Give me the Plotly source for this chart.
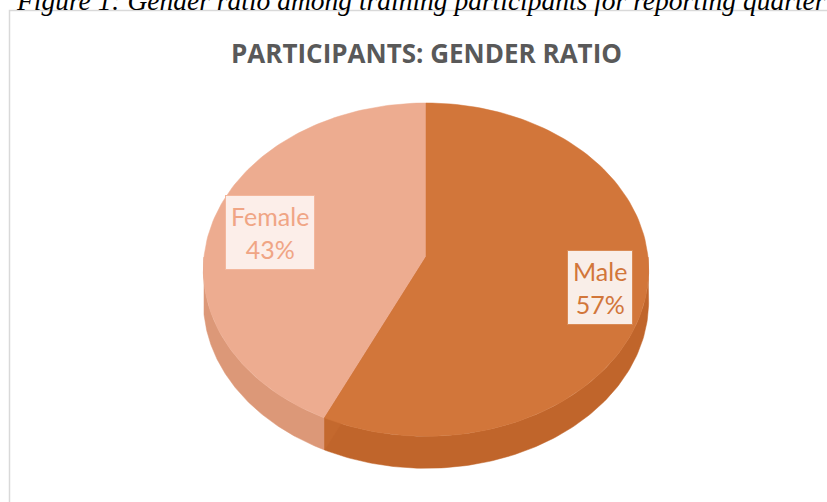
import math
import plotly.graph_objects as go

# ---- data ----
categories = ["Male", "Female"]
values = [57, 43]
title_text = "PARTICIPANTS: GENDER RATIO"
caption_text = "Figure 1: Gender ratio among training participants for reporting quarter"

# ---- style ----
top_colors = {"Male": "#D2763A", "Female": "#EDAC90"}
side_colors = {"Male": "#C0652B", "Female": "#DC9878"}
cut_color = "#C4692E"
label_fill = {"Male": "#F9EEE8", "Female": "#FCEEE9"}
label_text = {"Male": "#D2763A", "Female": "#F0A585"}
label_border = {"Male": "#D98A55", "Female": "#F3B79D"}
label_pos = {"Male": (600, 287), "Female": (270, 232)}

W, H = 827, 502
cx, cy = 426, 257      # pie apex (pixel space)
a, b, k = 222, 165.7, 0.0758
depth = 32


def proj(theta, d=0.0):
    t = math.radians(theta)
    X = math.sin(t)
    Y = -math.cos(t)
    w = 1 - k * Y
    return cx + a * X / w, cy + b * Y / w + d


def arc(t0, t1, d=0.0, n=120):
    return [proj(t0 + (t1 - t0) * i / n, d) for i in range(n + 1)]


total = sum(values)
angles = []
acc = 0.0
for v in values:
    start = acc / total * 360
    acc += v
    angles.append((start, acc / total * 360))

fig = go.Figure()

# side walls (front half visible: 90..270 deg clockwise from top)
for cat, (s, e) in zip(categories, angles):
    lo, hi = max(s, 90), min(e, 270)
    if hi > lo:
        upper = arc(lo, hi)
        lower = arc(lo, hi, depth)[::-1]
        pts = upper + lower + [upper[0]]
        fig.add_trace(go.Scatter(
            x=[p[0] for p in pts], y=[p[1] for p in pts], mode="lines",
            fill="toself", fillcolor=side_colors[cat],
            line=dict(color=side_colors[cat], width=0.5),
            hoverinfo="skip", showlegend=False))

# top faces: female first, then cut face, then male
for idx in [1, 0]:
    cat = categories[idx]
    s, e = angles[idx]
    pts = [(cx, cy)] + arc(s, e) + [(cx, cy)]
    fig.add_trace(go.Scatter(
        x=[p[0] for p in pts], y=[p[1] for p in pts], mode="lines",
        fill="toself", fillcolor=top_colors[cat],
        line=dict(color=top_colors[cat], width=0.5),
        hoverinfo="skip", showlegend=False, name=cat))
    if idx == 1:
        r0 = proj(angles[0][1])
        r1 = proj(angles[0][1], depth)
        q = [(cx, cy), r0, r1, (cx, cy + depth), (cx, cy)]
        fig.add_trace(go.Scatter(
            x=[p[0] for p in q], y=[p[1] for p in q], mode="lines",
            fill="toself", fillcolor=cut_color,
            line=dict(color=cut_color, width=0.5),
            hoverinfo="skip", showlegend=False))

annotations = []
for cat, v in zip(categories, values):
    x, y = label_pos[cat]
    annotations.append(dict(
        x=x, y=y, xref="x", yref="y", showarrow=False,
        text=f"{cat}<br>{round(v / total * 100)}%",
        font=dict(family="Lato, Open Sans, sans-serif", size=25, color=label_text[cat]),
        bgcolor=label_fill[cat], bordercolor=label_border[cat], borderwidth=1,
        borderpad=5, align="center"))

annotations.append(dict(
    x=426, y=53, xref="x", yref="y", showarrow=False, text=f"<b>{title_text}</b>",
    font=dict(family="Open Sans, sans-serif", size=26, color="#595959")))
annotations.append(dict(
    x=421, y=18, xref="x", yref="y", yanchor="bottom", showarrow=False,
    text=f"<i>{caption_text}</i>",
    font=dict(family="Liberation Serif, serif", size=27.5, color="#000000")))

fig.update_layout(
    width=W, height=H, autosize=False,
    margin=dict(l=0, r=0, t=0, b=0),
    paper_bgcolor="white", plot_bgcolor="white",
    xaxis=dict(range=[0, W], visible=False, fixedrange=True),
    yaxis=dict(range=[H, 0], visible=False, fixedrange=True),
    annotations=annotations,
    shapes=[dict(type="rect", xref="x", yref="y", x0=9.5, y0=10.5, x1=W + 20, y1=H + 20,
                 line=dict(color="#D9D9D9", width=1.5), layer="below")],
)

fig.write_html("out.html", config={"displayModeBar": False},
               post_script="document.body.style.margin='0';")
